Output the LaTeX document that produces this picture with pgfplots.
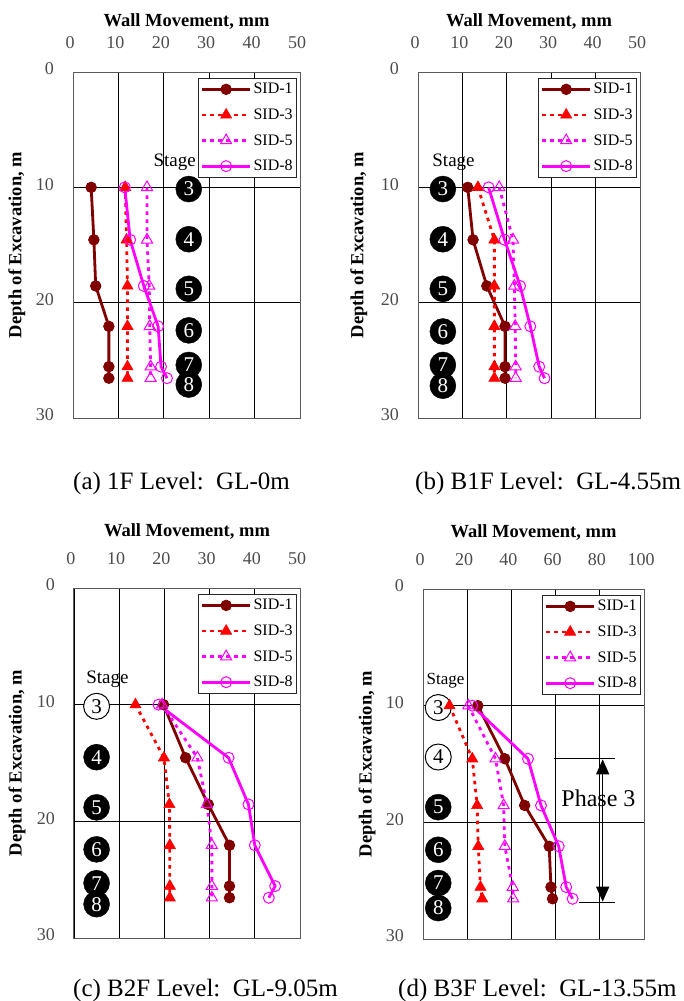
\documentclass[border=0pt]{standalone}
\usepackage{fontspec}
\setmainfont{Liberation Serif}
\usepackage{pgfplots}
\pgfplotsset{compat=1.18}
\usetikzlibrary{arrows.meta}
\definecolor{sidone}{HTML}{800000}
\definecolor{sidred}{HTML}{FF0000}
\definecolor{sidmag}{HTML}{FF00FF}
\pgfplotsset{
  sid1/.style={color=sidone, line width=2.8pt, mark=*, mark size=5.3pt, mark options={solid, fill=sidone, line width=0.8pt}},
  sid3/.style={color=sidred, line width=2.8pt, dash pattern=on 3.5pt off 4.5pt, mark=triangle*, mark size=6.4pt, mark options={solid, fill=sidred, line width=0.6pt}},
  sid5/.style={color=sidmag, line width=2.8pt, dash pattern=on 3.5pt off 4.5pt, mark=triangle, mark size=6.4pt, mark options={solid, line width=1pt}},
  sid8/.style={color=sidmag, line width=2.8pt, mark=o, mark size=5.5pt, mark options={solid, line width=1pt}},
  stageblk/.style={forget plot, only marks, mark=*, mark size=13pt, mark options={fill=black, draw=black},
    nodes near coords, point meta=explicit symbolic,
    nodes near coords style={anchor=center, text=white, font=\fontsize{21}{22}\selectfont, inner sep=0pt}},
  stagewht/.style={forget plot, only marks, mark=*, mark size=13pt, mark options={fill=white, draw=black, line width=1pt},
    nodes near coords, point meta=explicit symbolic,
    nodes near coords style={anchor=center, text=black, font=\fontsize{21}{22}\selectfont, inner sep=0pt}},
  base/.style={
    scale only axis, y dir=reverse, ymin=0, ymax=30, ytick={0,10,20,30},
    xticklabel pos=top,
    grid=major, major grid style={black, line width=0.7pt},
    axis line style={black!65, line width=1pt},
    major tick length=0pt,
    tick label style={text=black!70, font=\fontsize{18}{20}\selectfont},
    /pgf/number format/assume math mode=true,
    xticklabel style={anchor=base, yshift=24pt, xshift=-3pt, inner sep=0pt},
    yticklabel style={anchor=east, inner sep=0pt, xshift=-19pt, yshift=3pt},
    xlabel={Wall Movement, mm}, ylabel={Depth of Excavation, m},
    label style={font=\bfseries\fontsize{18.5}{22}\selectfont},
    legend style={at={(axis description cs:0.987,0.983)}, anchor=north east,
      draw=black!85, line width=0.8pt, font=\fontsize{16}{18}\selectfont,
      inner xsep=2pt, inner ysep=3pt, row sep=9.5pt, legend cell align=left},
  }
}
\newcommand{\legimg}{\pgfplotsset{legend image code/.code={\draw[mark repeat=2, mark phase=2, ##1] plot coordinates {(0pt,0pt) (24pt,0pt) (48pt,0pt)};}}}
\begin{document}
\begin{tikzpicture}
\path[use as bounding box] (0pt,0pt) rectangle (684pt,-1001pt);
\legimg
% (a)
\begin{axis}[base, at={(73pt,-72pt)}, anchor=north west, width=227pt, height=346pt,
  xmin=0, xmax=50, xtick={0,10,20,30,40,50},
  xlabel style={at={(axis description cs:0.5,1.145)}, anchor=center},
  ylabel style={at={(axis description cs:-0.247,0.5)}, anchor=center}]
\addplot[stageblk] coordinates {(25.5,10.15)[3] (25.5,14.5)[4] (25.5,18.8)[5] (25.5,22.4)[6] (25.5,25.4)[7] (25.5,27.1)[8]};
\addplot[sid1] coordinates {(4.0,10) (4.6,14.55) (5.0,18.55) (7.9,22.05) (7.9,25.55) (7.9,26.55)};
\addplot[sid3] coordinates {(11.5,10) (11.8,14.55) (12.0,18.55) (12.0,22.05) (12.0,25.55) (12.0,26.55)};
\addplot[sid5] coordinates {(16.3,10) (16.3,14.55) (16.8,18.55) (16.9,22.05) (17.1,25.55) (17.1,26.55)};
\addplot[sid8] coordinates {(11.4,10) (12.6,14.55) (15.6,18.55) (18.75,22.05) (19.4,25.55) (20.7,26.55)};
\legend{SID-1,SID-3,SID-5,SID-8}
\node[font=\fontsize{19}{20}\selectfont] at (axis cs:22.4,7.85) {Stage};
\end{axis}

% (b)
\begin{axis}[base, at={(418pt,-72pt)}, anchor=north west, width=222pt, height=346pt,
  xmin=0, xmax=50, xtick={0,10,20,30,40,50},
  xlabel style={at={(axis description cs:0.5,1.145)}, anchor=center},
  ylabel style={at={(axis description cs:-0.266,0.5)}, anchor=center}]
\addplot[stageblk] coordinates {(5.6,10.15)[3] (5.6,14.5)[4] (5.6,18.8)[5] (5.6,22.5)[6] (5.6,25.4)[7] (5.6,27.2)[8]};
\addplot[sid1] coordinates {(11.2,10) (12.4,14.55) (15.5,18.55) (19.6,22.05) (19.6,25.55) (19.6,26.55)};
\addplot[sid3] coordinates {(13.5,10) (17.2,14.55) (17.2,18.55) (17.2,22.05) (17.2,25.55) (17.2,26.55)};
\addplot[sid5] coordinates {(18.3,10) (21.4,14.55) (21.7,18.55) (21.9,22.05) (22.0,25.55) (22.0,26.55)};
\addplot[sid8] coordinates {(15.9,10) (19.5,14.55) (23.0,18.55) (25.3,22.05) (27.3,25.55) (28.5,26.55)};
\legend{SID-1,SID-3,SID-5,SID-8}
\node[font=\fontsize{19}{20}\selectfont] at (axis cs:8.0,7.86) {Stage};
\end{axis}

% (c)
\begin{axis}[base, at={(74pt,-588pt)}, anchor=north west, width=226pt, height=350pt,
  xmin=0, xmax=50, xtick={0,10,20,30,40,50},
  xlabel style={at={(axis description cs:0.5,1.16)}, anchor=center},
  ylabel style={at={(axis description cs:-0.252,0.5)}, anchor=center}]
\addplot[stagewht] coordinates {(5.0,10.14)[3]};
\addplot[stageblk] coordinates {(5.0,14.5)[4] (5.0,18.8)[5] (5.0,22.4)[6] (5.0,25.3)[7] (5.0,27.1)[8]};
\addplot[sid1] coordinates {(19.8,10) (24.7,14.55) (29.7,18.55) (34.4,22.05) (34.4,25.55) (34.4,26.55)};
\addplot[sid3] coordinates {(13.6,10) (19.9,14.55) (21.1,18.55) (21.2,22.05) (21.2,25.55) (21.2,26.55)};
\addplot[sid5] coordinates {(19.5,10) (27.3,14.55) (29.4,18.55) (30.5,22.05) (30.5,25.55) (30.5,26.55)};
\addplot[sid8] coordinates {(18.7,10) (34.2,14.55) (38.6,18.55) (40.0,22.05) (44.5,25.55) (43.1,26.55)};
\legend{SID-1,SID-3,SID-5,SID-8}
\node[font=\fontsize{19}{20}\selectfont] at (axis cs:7.4,7.86) {Stage};
\end{axis}

% (d)
\begin{axis}[base, at={(423pt,-589pt)}, anchor=north west, width=221pt, height=350pt,
  xmin=0, xmax=100, xtick={0,20,40,60,80,100},
  xlabel style={at={(axis description cs:0.5,1.16)}, anchor=center},
  ylabel style={at={(axis description cs:-0.253,0.5)}, anchor=center}]
\addplot[stagewht] coordinates {(6.9,10.16)[3] (6.9,14.4)[4]};
\addplot[stageblk] coordinates {(6.9,18.7)[5] (6.9,22.35)[6] (6.9,25.2)[7] (6.9,27.35)[8]};
\addplot[sid1] coordinates {(24.8,10) (37.0,14.55) (46.0,18.55) (57.1,22.05) (57.9,25.55) (58.6,26.55)};
\addplot[sid3] coordinates {(12.0,10) (22.3,14.55) (24.5,18.55) (25.0,22.05) (26.0,25.55) (26.8,26.55)};
\addplot[sid5] coordinates {(20.5,10) (32.8,14.55) (36.5,18.55) (37.0,22.05) (40.6,25.55) (40.8,26.55)};
\addplot[sid8] coordinates {(22.3,10) (47.5,14.55) (53.4,18.55) (61.4,22.05) (64.8,25.55) (67.7,26.55)};
\legend{SID-1,SID-3,SID-5,SID-8}
\node[font=\fontsize{17}{18}\selectfont] at (axis cs:10.2,7.88) {Stage};
\draw[black, line width=1pt] (axis cs:59.2,14.5) -- (axis cs:86.9,14.5);
\draw[black, line width=1pt] (axis cs:70.4,26.9) -- (axis cs:86.9,26.9);
\draw[black, line width=1.2pt, {Triangle[length=15pt,width=13pt]}-{Triangle[length=15pt,width=13pt]}] (axis cs:81.3,14.6) -- (axis cs:81.3,26.8);
\node[font=\fontsize{24}{26}\selectfont] at (axis cs:79.4,17.97) {Phase 3};
\end{axis}

% captions
\node[anchor=west, font=\fontsize{25}{27}\selectfont, inner sep=0pt] at (73pt,-483pt) {(a) 1F Level:\ \ GL-0m};
\node[anchor=west, font=\fontsize{25}{27}\selectfont, inner sep=0pt] at (415pt,-483pt) {(b) B1F Level:\ \ GL-4.55m};
\node[anchor=west, font=\fontsize{25}{27}\selectfont, inner sep=0pt] at (73pt,-990pt) {(c) B2F Level:\ \ GL-9.05m};
\node[anchor=west, font=\fontsize{25}{27}\selectfont, inner sep=0pt] at (398pt,-990pt) {(d) B3F Level:\ \ GL-13.55m};
\end{tikzpicture}
\end{document}
